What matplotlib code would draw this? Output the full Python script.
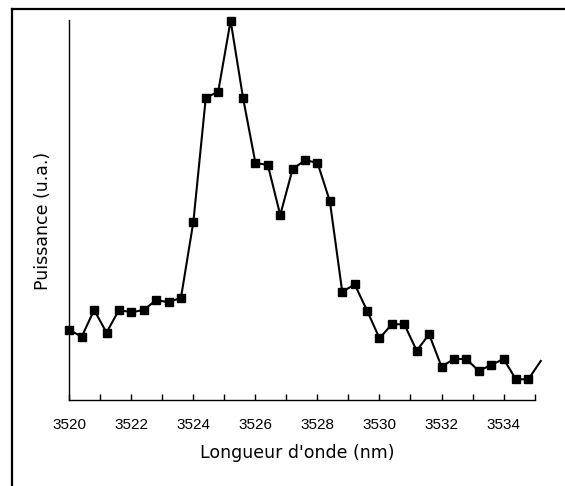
import matplotlib
matplotlib.use('Agg')
import matplotlib.pyplot as plt
from matplotlib.lines import Line2D

# wavelength (nm) and measured power (arbitrary units)
wavelength = [3520.0, 3520.4, 3520.8, 3521.2, 3521.6, 3522.0, 3522.4, 3522.8,
              3523.2, 3523.6, 3524.0, 3524.4, 3524.8, 3525.2, 3525.6, 3526.0,
              3526.4, 3526.8, 3527.2, 3527.6, 3528.0, 3528.4, 3528.8, 3529.2,
              3529.6, 3530.0, 3530.4, 3530.8, 3531.2, 3531.6, 3532.0, 3532.4,
              3532.8, 3533.2, 3533.6, 3534.0, 3534.4, 3534.8, 3535.2]
power = [70.0, 63.3, 90.0, 67.3, 90.0, 87.7, 90.0, 100.0,
         97.7, 102.3, 178.3, 302.3, 308.3, 379.3, 302.3, 237.0,
         235.0, 185.0, 231.0, 239.7, 237.3, 198.7, 108.0, 115.7,
         89.3, 61.7, 75.7, 75.7, 49.3, 65.7, 33.3, 41.0,
         41.0, 29.0, 35.0, 41.0, 20.7, 20.7, 39.0]

major_ticks = [3520, 3522, 3524, 3526, 3528, 3530, 3532, 3534]
minor_ticks = [3521, 3523, 3525, 3527, 3529, 3531, 3533, 3535]

fig = plt.figure(figsize=(5.65, 4.86), dpi=100)
ax = fig.add_axes([0.1227, 0.177, 0.8355, 0.7819])

# last point has no marker (line runs off the axis end)
ax.plot(wavelength, power, color='black', linewidth=1.5,
        marker='s', markersize=5.5, markevery=slice(0, len(power) - 1),
        clip_on=False)

ax.set_xlim(3520, 3535.22)
ax.set_ylim(0, 380)
ax.spines['top'].set_visible(False)
ax.spines['right'].set_visible(False)
ax.spines['bottom'].set_bounds(3520, 3535)
for s in ('left', 'bottom'):
    ax.spines[s].set_linewidth(1.0)

ax.set_xticks(major_ticks)
ax.set_xticks(minor_ticks, minor=True)
ax.set_yticks([])
ax.tick_params(axis='x', which='both', direction='in', length=4, width=1,
               pad=13, labelsize=11)
for lbl in ax.get_xticklabels():
    lbl.set_fontfamily('Liberation Sans')

ax.set_xlabel("Longueur d'onde (nm)", fontsize=12.5)
ax.xaxis.set_label_coords(0.482, -0.115)
ax.set_ylabel("Puissance (u.a.)", fontsize=12.5)
ax.yaxis.set_label_coords(-0.036, 0.47)

# frame lines (top and left) around the figure
fig.add_artist(Line2D([12 / 565, 1.0], [1 - 9.3 / 486, 1 - 9.3 / 486],
                      transform=fig.transFigure, color='black', linewidth=1.6))
fig.add_artist(Line2D([12 / 565, 12 / 565], [0.0, 1 - 9.3 / 486],
                      transform=fig.transFigure, color='black', linewidth=1.6))

fig.savefig('out.png', dpi=100)
